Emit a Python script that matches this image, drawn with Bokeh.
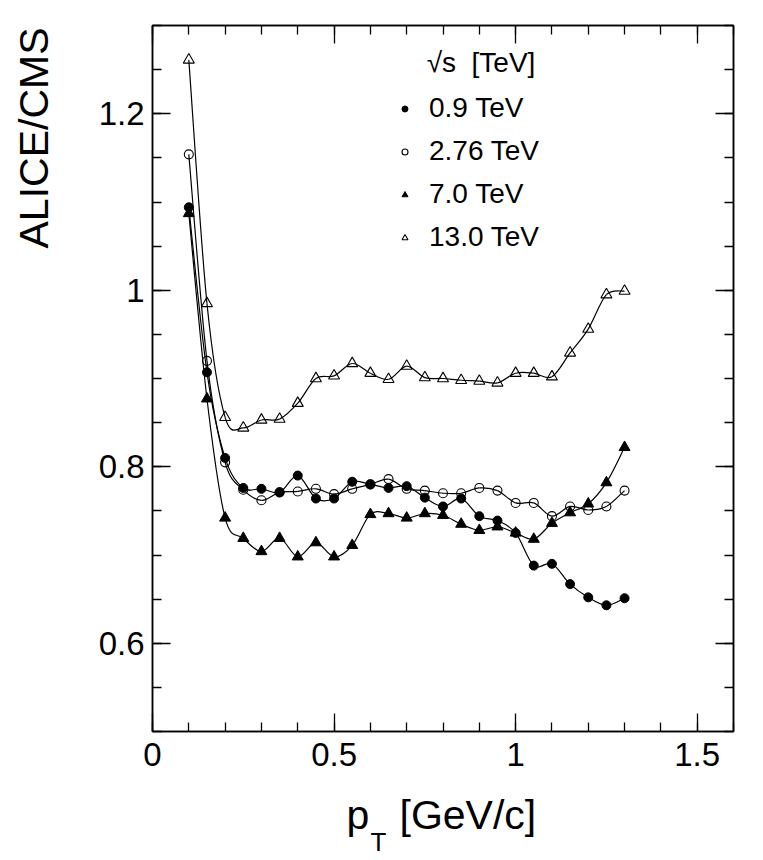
import numpy as np
from bokeh.plotting import figure
from bokeh.layouts import row, column
from bokeh.models import (LinearAxis, FixedTicker, Range1d, Label, Legend,
                          LegendItem)
from bokeh.core.properties import value
from bokeh.embed import file_html
from bokeh.resources import INLINE

# ---------------- data ----------------
pt = [0.10, 0.15, 0.20, 0.25, 0.30, 0.35, 0.40, 0.45, 0.50, 0.55, 0.60, 0.65,
      0.70, 0.75, 0.80, 0.85, 0.90, 0.95, 1.00, 1.05, 1.10, 1.15, 1.20, 1.25, 1.30]

r_09 = [1.094, 0.907, 0.810, 0.776, 0.775, 0.771, 0.790, 0.764, 0.764, 0.783,
        0.780, 0.776, 0.778, 0.765, 0.755, 0.764, 0.744, 0.739, 0.725, 0.688,
        0.690, 0.667, 0.652, 0.643, 0.651]
r_276 = [1.154, 0.920, 0.805, 0.774, 0.762, 0.771, 0.772, 0.775, 0.769, 0.775,
         0.780, 0.786, 0.775, 0.773, 0.770, 0.770, 0.776, 0.773, 0.759, 0.759,
         0.744, 0.755, 0.751, 0.755, 0.773]
r_70 = [1.087, 0.877, 0.742, 0.719, 0.704, 0.719, 0.698, 0.714, 0.698, 0.711,
        0.746, 0.747, 0.742, 0.747, 0.745, 0.735, 0.728, 0.732, 0.725, 0.718,
        0.736, 0.748, 0.758, 0.782, 0.822]
r_130 = [1.261, 0.985, 0.856, 0.844, 0.853, 0.854, 0.872, 0.900, 0.903, 0.917,
         0.906, 0.899, 0.914, 0.901, 0.900, 0.898, 0.897, 0.895, 0.906, 0.906,
         0.902, 0.929, 0.956, 0.995, 0.999]

labels = ["0.9 TeV", "2.76 TeV", "7.0 TeV", "13.0 TeV"]
legend_title = "√s\u00a0\u00a0[TeV]"
y_title = "ALICE/CMS"

x_ticks = [0, 0.5, 1, 1.5]
x_tick_labels = ["0", "0.5", "1", "1.5"]
y_ticks = [0.6, 0.8, 1.0, 1.2]
y_tick_labels = ["0.6", "0.8", "1", "1.2"]
x_minor = [round(0.1 * i, 2) for i in range(17)]
y_minor = [round(0.5 + 0.05 * i, 3) for i in range(17)]

FONT = "Liberation Sans"


def smooth_segments(xs, ys):
    """Catmull-Rom control points for a smooth curve through the points."""
    x = np.asarray(xs, float)
    y = np.asarray(ys, float)
    n = len(x)
    xp = np.concatenate([[x[0]], x, [x[-1]]])
    yp = np.concatenate([[y[0]], y, [y[-1]]])
    return dict(
        x0=x[:-1], y0=y[:-1], x1=x[1:], y1=y[1:],
        cx0=x[:-1] + (xp[2:n + 1] - xp[0:n - 1]) / 6.0,
        cy0=y[:-1] + (yp[2:n + 1] - yp[0:n - 1]) / 6.0,
        cx1=x[1:] - (xp[3:n + 2] - xp[1:n]) / 6.0,
        cy1=y[1:] - (yp[3:n + 2] - yp[1:n]) / 6.0,
    )


# ---------------- main plot ----------------
p = figure(frame_width=581, frame_height=706,
           x_range=Range1d(0, 1.6), y_range=Range1d(0.5, 1.3),
           output_backend="svg", toolbar_location=None,
           min_border_left=92, min_border_top=25, min_border_right=22,
           min_border_bottom=59)
p.grid.visible = False
p.outline_line_color = "black"
p.outline_line_width = 1.5
p.background_fill_color = "white"
p.border_fill_color = "white"

xt = FixedTicker(ticks=x_ticks, minor_ticks=x_minor)
yt = FixedTicker(ticks=y_ticks, minor_ticks=y_minor)


def style_axis(ax, ticker, labs, show):
    ax.ticker = ticker
    ax.axis_line_color = "black"
    ax.axis_line_width = 1.5
    ax.major_tick_in = 18
    ax.major_tick_out = 0
    ax.minor_tick_in = 9
    ax.minor_tick_out = 0
    ax.major_tick_line_width = 1.3
    ax.minor_tick_line_width = 1.3
    ax.major_tick_line_color = "black"
    ax.minor_tick_line_color = "black"
    if show:
        ax.major_label_overrides = {t: s for t, s in zip(ticker.ticks, labs)}
        ax.major_label_text_font = FONT
        ax.major_label_text_font_size = "33px"
        ax.major_label_text_color = "black"
    else:
        ax.major_label_overrides = {t: "" for t in ticker.ticks}
        ax.major_label_text_font_size = "1px"
        ax.major_label_standoff = 0


style_axis(p.xaxis[0], xt, x_tick_labels, True)
style_axis(p.yaxis[0], yt, y_tick_labels, True)
p.xaxis[0].major_label_standoff = 11
p.yaxis[0].major_label_standoff = 8

top = LinearAxis()
style_axis(top, xt, x_tick_labels, False)
p.add_layout(top, "above")
right = LinearAxis()
style_axis(right, yt, y_tick_labels, False)
p.add_layout(right, "right")

# curves + markers
series = [r_09, r_276, r_70, r_130]
for ys in series:
    p.bezier(line_color="black", line_width=1.2, **smooth_segments(pt, ys))

s09 = p.scatter(pt, r_09, marker="circle", size=9, fill_color="black",
                line_color="black")
s276 = p.scatter(pt, r_276, marker="circle", size=9, fill_color=None,
                 line_color="black", line_width=1.1)
s70 = p.scatter(pt, r_70, marker="triangle", size=11, fill_color="black",
                line_color="black")
s130 = p.scatter(pt, r_130, marker="triangle", size=11, fill_color=None,
                 line_color="black", line_width=1.1)

legend = Legend(items=[LegendItem(label=l, renderers=[r])
                       for l, r in zip(labels, [s09, s276, s70, s130])],
                location=(245, 477), orientation="vertical",
                padding=0, margin=0, spacing=9,
                glyph_width=15, glyph_height=15, label_height=34,
                label_standoff=17, label_text_font=FONT,
                label_text_font_size="28px", label_text_color="black",
                border_line_color=None, background_fill_alpha=0)
p.add_layout(legend)

p.add_layout(Label(x=0.755, y=1.258, text=legend_title, text_font=FONT,
                   text_font_size="28px", text_baseline="middle",
                   text_align="left", text_color="black"))

# ---------------- y-axis title panel (left) ----------------
YW, YH = 60, 790
yfig = figure(frame_width=YW, frame_height=YH, x_range=Range1d(0, YW),
              y_range=Range1d(0, YH), output_backend="svg",
              toolbar_location=None, x_axis_location=None,
              y_axis_location=None, min_border=0)
yfig.grid.visible = False
yfig.outline_line_color = None
yfig.text(x=[33], y=[YH - 112.5], text=[y_title], angle=np.pi / 2,
          text_align="center", text_baseline="middle",
          text_font=value(FONT), text_font_size=value("41px"),
          text_color="black")

# ---------------- x-axis title panel (below) ----------------
XW, XH = 755, 68
xfig = figure(frame_width=XW, frame_height=XH, x_range=Range1d(0, XW),
              y_range=Range1d(0, XH), output_backend="svg",
              toolbar_location=None, x_axis_location=None,
              y_axis_location=None, min_border=0)
xfig.grid.visible = False
xfig.outline_line_color = None
xfig.text(x=[346, 399], y=[43.7, 43.7], text=["p", "[GeV/c]"],
          text_align="left", text_baseline="middle",
          text_font=value(FONT), text_font_size=value("41px"),
          text_color="black")
xfig.text(x=[370], y=[16.3], text=["T"], text_align="left",
          text_baseline="middle", text_font=value(FONT),
          text_font_size=value("26px"), text_color="black")

layout = column(row(yfig, p, spacing=0), xfig, spacing=0)
open("out.html", "w").write(file_html(layout, INLINE))
